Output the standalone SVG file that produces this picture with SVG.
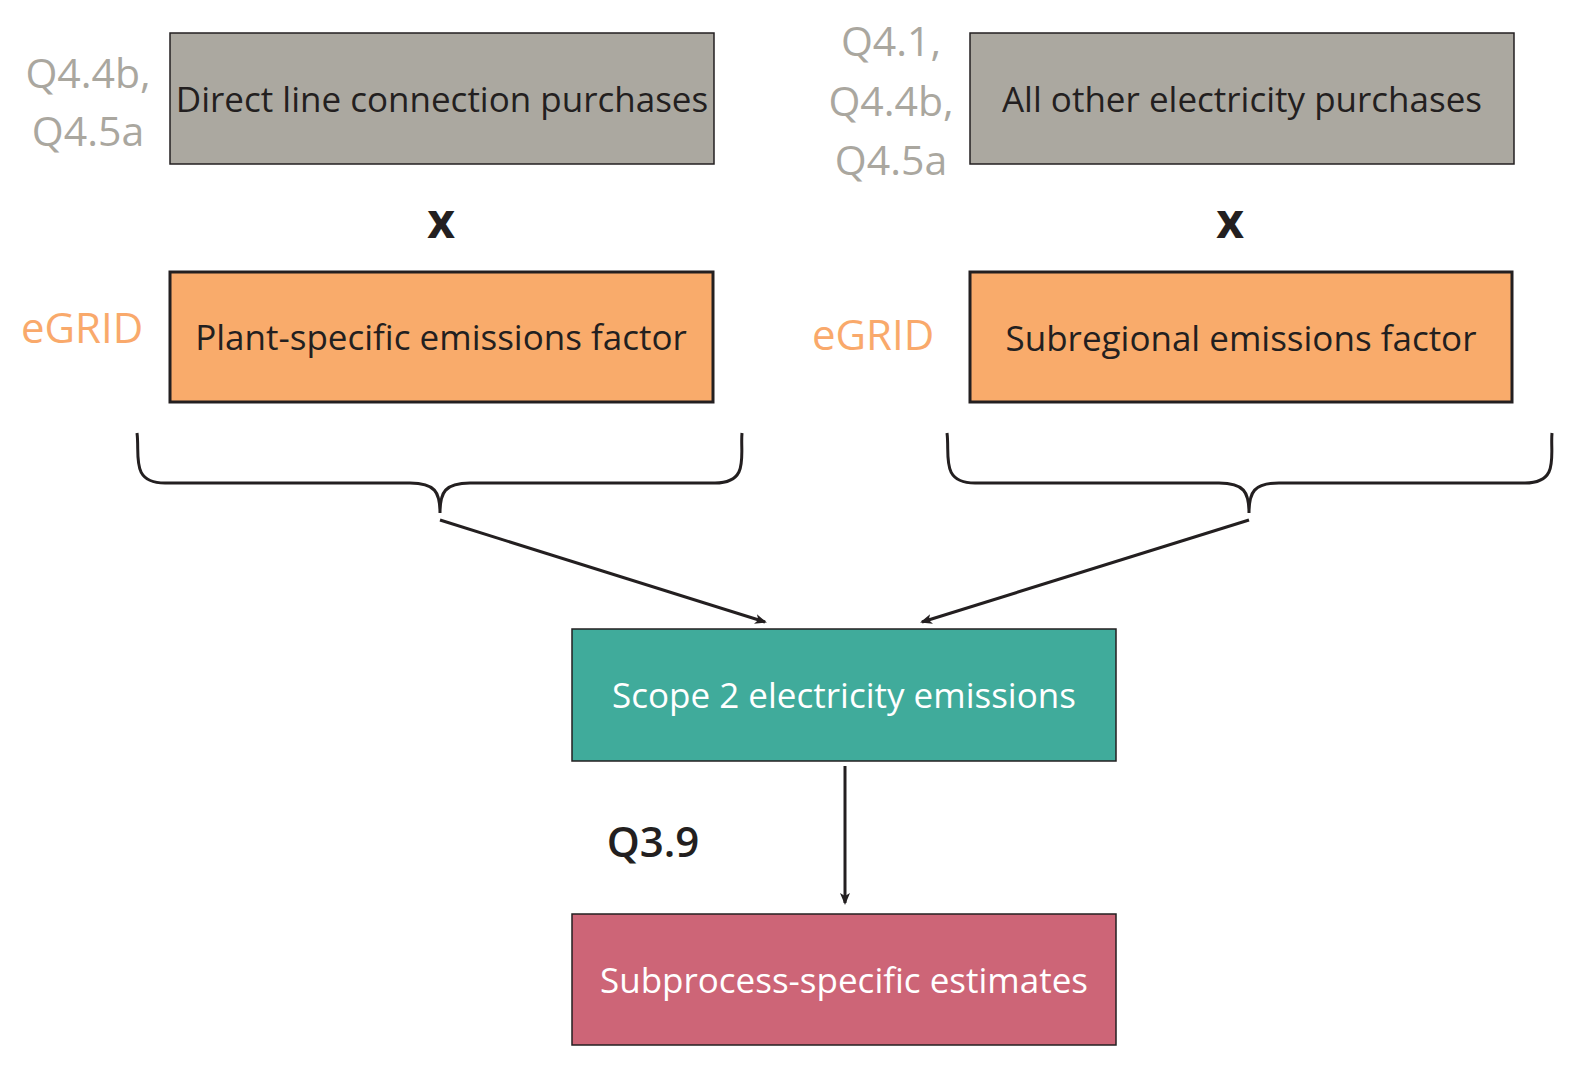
<svg xmlns="http://www.w3.org/2000/svg" width="1577" height="1067" viewBox="0 0 1577 1067">
<style>
text{font-family:"Open Sans","Liberation Sans",sans-serif;}
.box{stroke:#231f20;stroke-width:1.5;}
.or{fill:#f9ab6b;stroke:#231f20;stroke-width:3;}
.bt{font-size:35px;fill:#231f20;text-anchor:middle;}
.wt{font-size:35px;fill:#ffffff;text-anchor:middle;}
.gq{font-size:41px;fill:#aaa79f;text-anchor:middle;}
.eg{font-size:42px;fill:#f9a96b;text-anchor:middle;}
.x{font-size:48px;font-weight:bold;fill:#231f20;text-anchor:middle;}
.ln{fill:none;stroke:#231f20;stroke-width:3;}
</style>
<defs><marker id="ah" markerWidth="12" markerHeight="10" refX="10" refY="5" orient="auto" markerUnits="userSpaceOnUse" viewBox="0 0 12 10"><path d="M0,0 L12,5 L0,10 L3,5 z" fill="#231f20"/></marker></defs>
<g id="n1"><rect class="box" x="170" y="33" width="544" height="131" fill="#aba8a0"/><text class="bt" x="442" y="112">Direct line connection purchases</text><text class="gq" x="88" y="88">Q4.4b,</text><text class="gq" x="88" y="146">Q4.5a</text></g>
<g id="n2"><rect class="box" x="970" y="33" width="544" height="131" fill="#aba8a0"/><text class="bt" x="1242" y="112">All other electricity purchases</text><text class="gq" x="891" y="56">Q4.1,</text><text class="gq" x="891" y="116">Q4.4b,</text><text class="gq" x="891" y="175">Q4.5a</text></g>
<text class="x" x="441" y="238">x</text><text class="x" x="1230" y="238">x</text>
<g id="n3"><rect class="or" x="170" y="272" width="543" height="130"/><text class="bt" x="441" y="350">Plant-specific emissions factor</text><text class="eg" x="82" y="343">eGRID</text></g>
<g id="n4"><rect class="or" x="970" y="272" width="542" height="130"/><text class="bt" x="1241" y="351">Subregional emissions factor</text><text class="eg" x="873" y="350">eGRID</text></g>
<g id="n5"><rect class="box" x="572" y="629" width="544" height="132" fill="#40ab9b"/><text class="wt" x="844" y="708">Scope 2 electricity emissions</text></g>
<g id="n6"><rect class="box" x="572" y="914" width="544" height="131" fill="#cd6577"/><text class="wt" x="844" y="993">Subprocess-specific estimates</text></g>
<text x="653" y="857" style="font-size:42px;fill:#231f20;text-anchor:middle;font-weight:600">Q3.9</text>
<g id="connectors">
<path class="ln" d="M137,433 C140,455 130,483 165,483 L410,483 C435,483 440,492 440,513 C440,492 445,483 470,483 L715,483 C750,483 740,455 742,433"/>
<path class="ln" d="M947,433 C950,455 940,483 975,483 L1219,483 C1244,483 1249,492 1249,513 C1249,492 1254,483 1279,483 L1525,483 C1560,483 1550,455 1552,433"/>
<line class="ln" x1="440" y1="520" x2="765" y2="622" stroke-width="2.5" marker-end="url(#ah)"/>
<line class="ln" x1="1249" y1="520" x2="922" y2="622" stroke-width="2.5" marker-end="url(#ah)"/>
<line class="ln" x1="845" y1="766" x2="845" y2="903" stroke-width="2.5" marker-end="url(#ah)"/>
</g>
</svg>
